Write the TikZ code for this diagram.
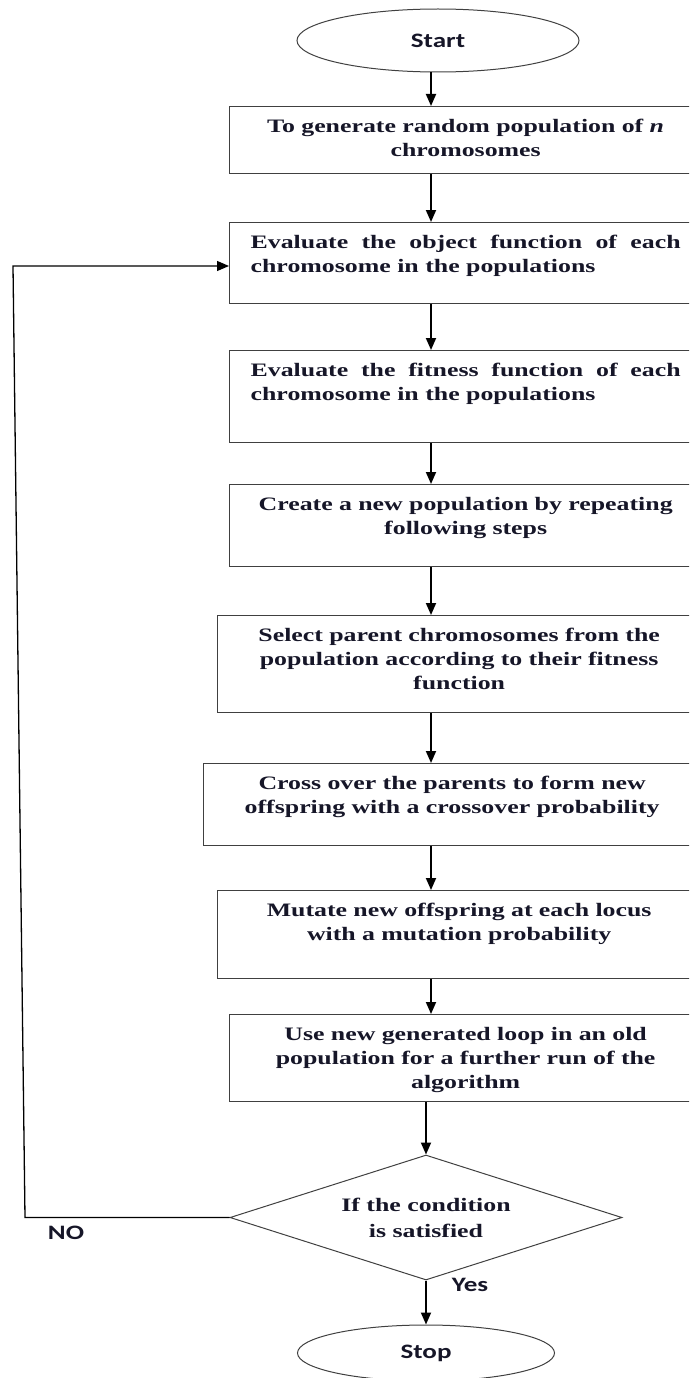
\documentclass[tikz,border=0pt]{standalone}
\usepackage{fontspec}
\setmainfont{Liberation Serif}[FakeStretch=1.36]
\newfontfamily\labelfont{Carlito}[FakeStretch=1.32]
\usepackage{tikz}
\usetikzlibrary{shapes.geometric, arrows.meta}
\definecolor{inkdark}{RGB}{22, 22, 40}
\definecolor{edgegray}{RGB}{64, 64, 64}
\newcommand\boxfont{\fontsize{19}{24}\selectfont\bfseries}
\newcommand\condfont{\fontsize{19}{26}\selectfont\bfseries}
\newcommand\termfont{\fontsize{20.5}{24}\labelfont\bfseries}

\begin{document}
\begin{tikzpicture}[
    x=1pt, y=-1pt,
    proc/.style={draw=edgegray, line width=1.3pt, anchor=north west, inner xsep=21pt,
                 inner ysep=0pt, text height=26pt, align=center, font=\boxfont, text=inkdark},
    term/.style={draw=edgegray, line width=1pt, ellipse, inner sep=0pt, font=\termfont, text=inkdark},
    decide/.style={draw=edgegray, line width=1pt, diamond, aspect=3.1, minimum width=392pt,
                   minimum height=125pt, inner sep=0pt, align=center, font=\condfont, text=inkdark},
    flow/.style={draw=black, line width=1.8pt, -{Triangle[length=12pt, width=10pt]}},
    tag/.style={font=\termfont, text=inkdark}
]
    \useasboundingbox (0,0) rectangle (689,1378);
    \clip (0,0) rectangle (689,1378);

    \coordinate (spine) at (431,0);

    \node[term, minimum width=282pt, minimum height=63pt] (start) at (438,40.5) {Start};

    \node[proc, text width=430pt, text depth=41pt] (b1) at (229,106)
        {To generate random population of \textit{n}\\chromosomes};
    \node[proc, text width=430pt, text depth=55pt, align=justify] (b2) at (229,222)
        {Evaluate the object function of each chromosome in the populations};
    \node[proc, text width=430pt, text depth=66pt, align=justify] (b3) at (229,350)
        {Evaluate the fitness function of each chromosome in the populations};
    \node[proc, text width=430pt, text depth=56pt] (b4) at (229,484)
        {Create a new population by repeating\\following steps};
    \node[proc, text width=441pt, text depth=71pt] (b5) at (217,615)
        {Select parent chromosomes from the\\population according to their fitness\\function};
    \node[proc, text width=455pt, text depth=56pt] (b6) at (203,763)
        {Cross over the parents to form new\\offspring with a crossover probability};
    \node[proc, text width=441pt, text depth=62pt] (b7) at (217,890)
        {Mutate new offspring at each locus\\with a mutation probability};
    \node[proc, text width=430pt, text depth=61pt] (b8) at (229,1014)
        {Use new generated loop in an old\\population for a further run of the\\algorithm};

    \node[decide] (dec) at (426,1217.5) {If the condition\\is satisfied};
    \node[term, minimum width=257pt, minimum height=56pt] (stop) at (426,1353) {Stop};

    \node[tag] (no) at (66,1233) {NO};
    \node[tag] (yes) at (470,1285) {Yes};

    % main column
    \draw[flow] (start.south -| spine) -- (b1.north -| spine);
    \draw[flow] (b1.south -| spine) -- (b2.north -| spine);
    \draw[flow] (b2.south -| spine) -- (b3.north -| spine);
    \draw[flow] (b3.south -| spine) -- (b4.north -| spine);
    \draw[flow] (b4.south -| spine) -- (b5.north -| spine);
    \draw[flow] (b5.south -| spine) -- (b6.north -| spine);
    \draw[flow] (b6.south -| spine) -- (b7.north -| spine);
    \draw[flow] (b7.south -| spine) -- (b8.north -| spine);
    \draw[flow] (b8.south -| dec.north) -- (dec.north);
    \draw[flow] (dec.south) -- (stop.north);

    % back to evaluation
    \coordinate (loopbot) at (25,1217.5);
    \coordinate (looptop) at (13,266);
    \draw[flow, line width=1.3pt] (dec.west) -- (loopbot) -- (looptop) -- (b2.west |- looptop);
\end{tikzpicture}
\end{document}
